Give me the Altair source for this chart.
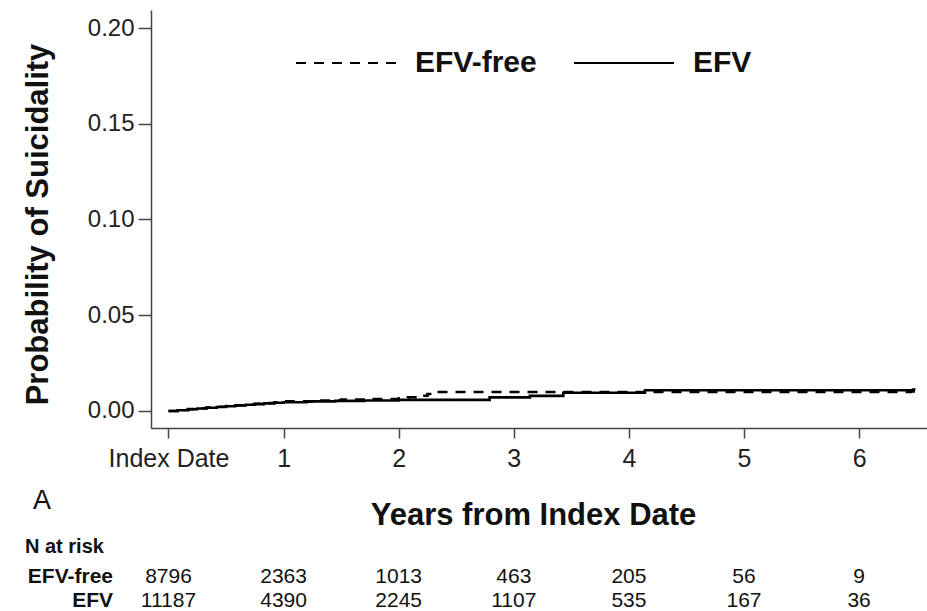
import altair as alt
import pandas as pd

# ---- data ----
efv_years = [0, 0.08, 0.17, 0.25, 0.33, 0.42, 0.5, 0.58, 0.67, 0.75, 0.83, 0.92, 1.0,
             1.2, 1.45, 1.7, 2.0, 2.79, 3.14, 3.43, 4.14, 6.47, 6.49]
efv_prob = [0, 0.0004, 0.0009, 0.0013, 0.0017, 0.0021, 0.0025, 0.0029, 0.0033, 0.0036,
            0.0040, 0.0043, 0.0046, 0.0050, 0.0053, 0.0055, 0.0058, 0.0071, 0.0079,
            0.0095, 0.0108, 0.0112, 0.0112]

free_years = [0, 0.08, 0.17, 0.25, 0.33, 0.42, 0.5, 0.58, 0.67, 0.75, 0.83, 0.92, 1.0,
              1.25, 1.5, 1.75, 2.0, 2.08, 2.17, 2.25, 2.32, 6.45, 6.49]
free_prob = [0, 0.0005, 0.0010, 0.0014, 0.0018, 0.0022, 0.0026, 0.0030, 0.0034, 0.0038,
             0.0042, 0.0046, 0.0050, 0.0055, 0.0060, 0.0063, 0.0066, 0.0072, 0.0080,
             0.0089, 0.0099, 0.0102, 0.0102]

groups = ["EFV-free", "EFV"]
risk_years = [0, 1, 2, 3, 4, 5, 6]
risk_free = [8796, 2363, 1013, 463, 205, 56, 9]
risk_efv = [11187, 4390, 2245, 1107, 535, 167, 36]
x_ticks = [0, 1, 2, 3, 4, 5, 6]
y_ticks = [0.0, 0.05, 0.10, 0.15, 0.20]

FONT = "Liberation Sans"

curves = pd.DataFrame(
    [{"years": t, "prob": p, "group": "EFV"} for t, p in zip(efv_years, efv_prob)]
    + [{"years": t, "prob": p, "group": "EFV-free"} for t, p in zip(free_years, free_prob)]
)

W, H = 776, 418

x_scale = alt.Scale(domain=[-0.152, 6.59], nice=False, zero=False)
y_scale = alt.Scale(domain=[-0.00888, 0.2094], nice=False, zero=False)

lines = alt.Chart(curves).mark_line(
    interpolate="step-after", color="black", strokeWidth=2.6
).encode(
    x=alt.X("years:Q", scale=x_scale,
            axis=alt.Axis(values=x_ticks, grid=False, format="d",
                          labelExpr="datum.value == 0 ? 'Index Date' : datum.label",
                          title="Years from Index Date",
                          titleX=382, titleY=96, titleBaseline="alphabetic",
                          titleAlign="center", titleFontSize=31, titleFontWeight="bold",
                          tickSize=10, labelPadding=8, labelFontSize=25)),
    y=alt.Y("prob:Q", scale=y_scale,
            axis=alt.Axis(values=y_ticks, format=".2f", grid=False,
                          title="Probability of Suicidality",
                          titleX=-104, titleY=214, titleBaseline="alphabetic",
                          titleAlign="center", titleAngle=270,
                          titleFontSize=31, titleFontWeight="bold",
                          tickSize=13, labelPadding=4, labelFontSize=24)),
    strokeDash=alt.StrokeDash(
        "group:N",
        scale=alt.Scale(domain=groups, range=[[10, 8], [1, 0]]),
        legend=alt.Legend(orient="none", legendX=144, legendY=2, direction="horizontal",
                          title=None, symbolType="stroke", symbolSize=10000,
                          symbolStrokeWidth=2, symbolStrokeColor="black",
                          labelFontSize=30, labelFontWeight="bold", labelFont=FONT,
                          labelColor="#111", labelOffset=18, columnPadding=33),
    ),
    detail="group:N",
)


def risk_row(values, label, ypix):
    df = pd.DataFrame({"years": risk_years, "n": [str(v) for v in values]})
    nums = alt.Chart(df).mark_text(
        fontSize=21, font=FONT, color="#111", align="center", baseline="alphabetic"
    ).encode(x=alt.X("years:Q", scale=x_scale), y=alt.value(ypix), text="n:N")
    lab = alt.Chart(pd.DataFrame({"row": [label]})).mark_text(
        fontSize=21, font=FONT, fontWeight="bold", color="#111", align="right",
        baseline="alphabetic"
    ).encode(x=alt.value(-38), y=alt.value(ypix), text="row:N")
    return [nums, lab]


header = alt.Chart(pd.DataFrame({"t": ["N at risk"]})).mark_text(
    fontSize=20, font=FONT, fontWeight="bold", color="#111", align="left",
    baseline="alphabetic"
).encode(x=alt.value(-126), y=alt.value(543), text="t:N")

panel = alt.Chart(pd.DataFrame({"t": ["A"]})).mark_text(
    fontSize=27, font=FONT, color="#111", align="left", baseline="alphabetic"
).encode(x=alt.value(-118), y=alt.value(499), text="t:N")

chart = alt.layer(
    lines, *risk_row(risk_free, "EFV-free", 573), *risk_row(risk_efv, "EFV", 597),
    header, panel
).properties(
    width=W, height=H,
    autosize=alt.AutoSizeParams(type="none"),
    padding={"left": 151, "top": 10, "right": 0, "bottom": 183},
    background="white",
).configure_view(stroke=None).configure_axis(
    grid=False, domainColor="#444", domainWidth=1.5, tickColor="#444", tickWidth=1.5,
    labelFont=FONT, titleFont=FONT, labelColor="#222", titleColor="#111",
)

chart.save("out.html", embed_options={"renderer": "svg", "actions": False})
